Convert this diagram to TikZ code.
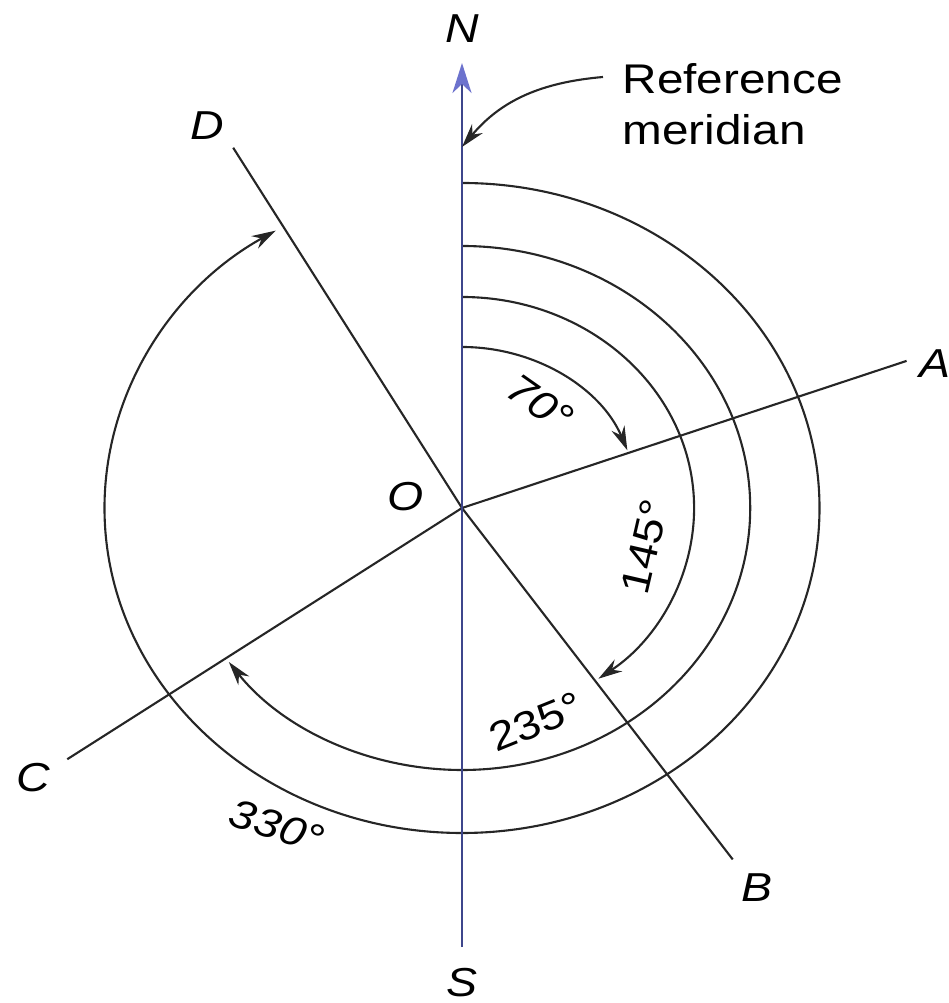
\documentclass[tikz,border=0pt]{standalone}
\usepackage{fontspec}
\setmainfont{Liberation Sans}[FakeStretch=1.15]
\usetikzlibrary{arrows.meta}
\definecolor{azulmer}{RGB}{62,70,140}
\definecolor{azulpunta}{RGB}{108,114,205}

\begin{document}
\begin{tikzpicture}[
    linea/.style     = {draw=black!85, line width=0.6pt},
    flecha/.style    = {-{Stealth[length=2.4mm,width=1.4mm]}, draw=black!85,
                        line width=0.6pt},
    meridiano/.style = {-{Stealth[length=3mm,width=1.9mm,inset=0.9mm,
                        color=azulpunta, fill=azulpunta]}, draw=azulmer,
                        line width=0.8pt},
    letra/.style     = {font=\fontsize{11.5}{14}\selectfont\itshape, inner sep=1pt},
    grados/.style    = {font=\fontsize{11.5}{14}\selectfont, inner sep=1pt},
    nota/.style      = {font=\fontsize{11.8}{14.5}\selectfont, align=left,
                        inner sep=1pt},
  ]
  \useasboundingbox (-4.62,-4.95) rectangle (4.86,5.08);

  %-------------------------------------------------- rumbos (x estirado)
  \begin{scope}[xscale=1.1]
    \coordinate (centro) at (0,0);
    \coordinate (norte)  at (0,4.45);
    \coordinate (sur)    at (0,-4.39);
    \coordinate (a) at (20:4.30);
    \coordinate (b) at (-55:4.29);
    \coordinate (c) at (215:4.38);
    \coordinate (d) at (120:4.16);
    \foreach \r [count=\i] in {1.61,2.11,2.62,3.25}
      \coordinate (m\i) at (0,\r);
    \coordinate (m0) at (0,3.61);

    \draw[linea] (centro) -- (a);
    \draw[linea] (centro) -- (b);
    \draw[linea] (centro) -- (c);
    \draw[linea] (centro) -- (d);

    %------------------------------------------------ arcos de azimut
    \draw[flecha] (m1) arc[start angle=90, end angle=21,     radius=1.61];
    \draw[flecha] (m2) arc[start angle=90, end angle=-54,    radius=2.11];
    \draw[flecha] (m3) arc[start angle=90, end angle=-144,   radius=2.62];
    \draw[flecha] (m4) arc[start angle=90, end angle=-238.6, radius=3.25];

    \draw[meridiano] (sur) -- (norte);
  \end{scope}

  %-------------------------------------------------- letras
  \node[letra] (N) at (0,4.79)      {N};
  \node[letra] (S) at (0,-4.75)     {S};
  \node[letra] (O) at (-0.56,0.11)  {O};
  \node[letra] (A) at (4.73,1.44)   {A};
  \node[letra] (B) at (2.95,-3.80)  {B};
  \node[letra] (C) at (-4.29,-2.70) {C};
  \node[letra] (D) at (-2.55,3.82)  {D};

  %-------------------------------------------------- angulos
  \node[letra, rotate=-35] (g70)  at (0.78,1.05)   {70°};
  \node[grados, rotate=77] (g145) at (1.83,-0.39)  {145°};
  \node[grados, rotate=22] (g235) at (0.74,-2.14)  {235°};
  \node[letra, rotate=-18] (g330) at (-1.85,-3.18) {330°};

  %-------------------------------------------------- meridiano de referencia
  \node[nota, anchor=west] (ref) at (1.565,4.04) {Reference\\meridian};
  \coordinate (ini) at ([shift={(-0.155,0.27)}]ref.west);
  \draw[flecha] (ini) to[out=185, in=50] (m0);
\end{tikzpicture}
\end{document}
